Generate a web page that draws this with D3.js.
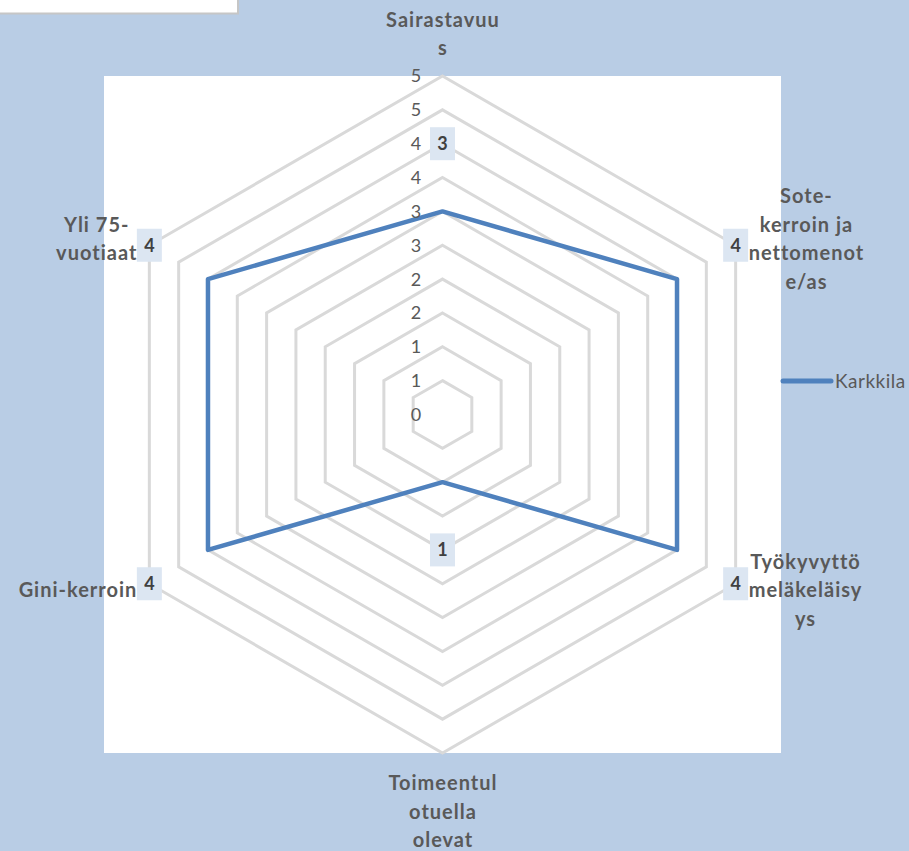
<!DOCTYPE html>
<html><head><meta charset="utf-8">
<script src="https://cdn.jsdelivr.net/npm/d3@7"></script>
<style>html,body{margin:0;padding:0;background:#b9cde5;} svg{display:block}</style>
</head><body><svg id="c" width="909" height="851"></svg>
<script>
// ---- data ----
const categories = ["Sairastavuus", "Sote-kerroin ja nettomenot e/as", "Työkyvyttömeläkeläisyys", "Toimeentulotuella olevat", "Gini-kerroin", "Yli 75-vuotiaat"];
const categoryLines = [["Sairastavuu", "s"], ["Sote-", "kerroin ja", "nettomenot", "e/as"], ["Työkyvyttö", "meläkeläisy", "ys"], ["Toimeentul", "otuella", "olevat"], ["Gini-kerroin"], ["Yli 75-", "vuotiaat"]];
const seriesName = "Karkkila";
const values = [3, 4, 4, 1, 4, 4];
const tickValues = [0, 0.5, 1, 1.5, 2, 2.5, 3, 3.5, 4, 4.5, 5];
const tickLabels = ["0", "1", "1", "2", "2", "3", "3", "4", "4", "5", "5"];

// ---- layout ----
const W = 909, H = 851;
const cx = 442.5, cy = 414.5, R = 338.5;
const plot = {x: 104, y: 76, w: 677, h: 677};
const textColor = "#595959";
const gridColor = "#d9d9d9";
const seriesColor = "#4f81bd";
const catFont = "Lato, 'Open Sans', sans-serif";

const svg = d3.select("#c");
svg.append("rect").attr("width", W).attr("height", H).attr("fill", "#b9cde5");

// stray white box top-left
svg.append("rect").attr("x", 0).attr("y", 0).attr("width", 238).attr("height", 13).attr("fill", "#fff");
svg.append("path").attr("d", "M238,0V13.5H0").attr("fill", "none").attr("stroke", "#c6c6c6").attr("stroke-width", 2);

// plot area
svg.append("rect").attr("x", plot.x).attr("y", plot.y).attr("width", plot.w).attr("height", plot.h).attr("fill", "#fff");

const r = d3.scaleLinear().domain([0, 5]).range([0, R]);
const ang = d3.scaleLinear().domain([0, categories.length]).range([0, 2 * Math.PI]);
const polar = (rad, a) => [cx + rad * Math.sin(a), cy - rad * Math.cos(a)];

const g = svg.append("g").attr("transform", `translate(${cx},${cy})`);

// grid rings
const idx = d3.range(categories.length);
g.selectAll("path.ring").data(tickValues.filter(t => t > 0)).join("path")
  .attr("class", "ring")
  .attr("d", t => d3.lineRadial().angle(i => ang(i)).radius(() => r(t)).curve(d3.curveLinearClosed)(idx))
  .attr("fill", "none").attr("stroke", gridColor).attr("stroke-width", 3);

// tick labels
svg.selectAll("text.tick").data(tickValues).join("text")
  .attr("class", "tick")
  .attr("x", cx - 26.5)
  .attr("y", t => cy - r(t))
  .attr("dy", "0.36em")
  .attr("text-anchor", "middle")
  .attr("font-family", catFont).attr("font-size", 18).attr("fill", textColor)
  .text((t, i) => tickLabels[i]);

// series
g.append("path").datum(values)
  .attr("d", d3.lineRadial().angle((d, i) => ang(i)).radius(d => r(d)).curve(d3.curveLinearClosed))
  .attr("fill", "none").attr("stroke", seriesColor).attr("stroke-width", 4.5).attr("stroke-linejoin", "round");

// data labels
const dl = svg.selectAll("g.dl").data(values).join("g").attr("class", "dl")
  .attr("transform", (d, i) => { const p = polar(r(d + 1), ang(i)); return `translate(${p[0]},${p[1]})`; });
dl.append("rect").attr("x", -12.5).attr("y", -16.5).attr("width", 25).attr("height", 33).attr("fill", "#dce6f2");
dl.append("text").attr("text-anchor", "middle").attr("dy", "0.36em")
  .attr("font-family", catFont).attr("font-weight", "bold").attr("font-size", 18).attr("fill", "#404040")
  .text(d => d);

// category labels
const lh = 28.5;
categoryLines.forEach((lines, i) => {
  const a = ang(i);
  const [vx, vy] = polar(R, a);
  const s = Math.sin(a), c = Math.cos(a);
  const tg = svg.append("g");
  const texts = tg.selectAll("text").data(lines).join("text")
    .attr("text-anchor", "middle")
    .attr("font-family", catFont).attr("font-weight", "bold").attr("font-size", 20)
    .attr("letter-spacing", 1).attr("fill", textColor)
    .attr("dy", "0.35em")
    .text(d => d);
  let maxW = 0;
  texts.each(function () { maxW = Math.max(maxW, this.getComputedTextLength()); });
  let bx, firstY;
  const n = lines.length;
  if (Math.abs(s) < 0.1) {
    bx = vx;
    if (c > 0) firstY = vy - 28 - (n - 1) * lh;
    else firstY = vy + 30;
  } else {
    bx = s > 0 ? vx + 12.5 + maxW / 2 : vx - 12.5 - maxW / 2;
    const centerY = vy - c * 13;
    firstY = centerY - (n - 1) * lh / 2;
  }
  texts.attr("x", bx + 0.5).attr("y", (d, k) => firstY + k * lh);
});

// legend
svg.append("line").attr("x1", 783).attr("x2", 831).attr("y1", 381).attr("y2", 381)
  .attr("stroke", seriesColor).attr("stroke-width", 5).attr("stroke-linecap", "round");
svg.append("text").attr("x", 835).attr("y", 381).attr("dy", "0.35em")
  .attr("font-family", catFont).attr("font-size", 19).attr("letter-spacing", 0.5).attr("fill", textColor).text(seriesName);
</script>
</body></html>
